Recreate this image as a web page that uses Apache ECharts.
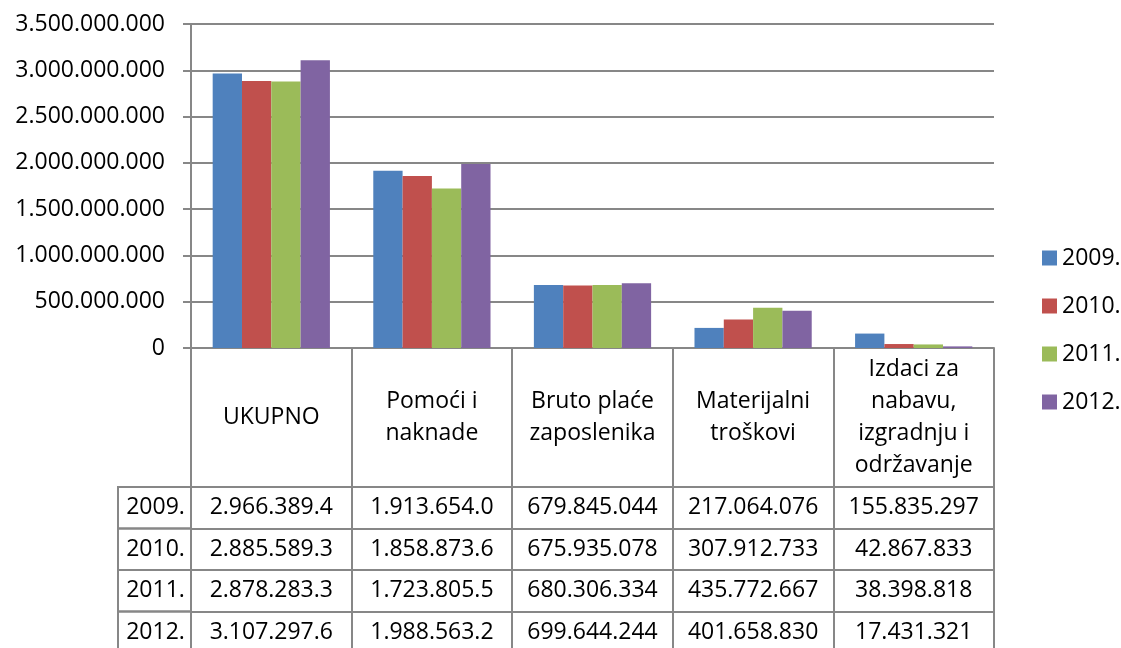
<!DOCTYPE html>
<html>
<head>
<meta charset="utf-8">
<script src="https://cdn.jsdelivr.net/npm/echarts@6/dist/echarts.min.js"></script>
<style>
html,body{margin:0;padding:0;background:#fff;}
#main{width:1121px;height:648px;}
</style>
</head>
<body>
<div id="main"></div>
<script>
// ---- data ----
var categories = ['UKUPNO', 'Pomoći i\nnaknade', 'Bruto plaće\nzaposlenika', 'Materijalni\ntroškovi', 'Izdaci za\nnabavu,\nizgradnju i\nodržavanje'];
var years = ['2009.', '2010.', '2011.', '2012.'];
var values2009 = [2966389400, 1913654000, 679845044, 217064076, 155835297];
var values2010 = [2885589300, 1858873600, 675935078, 307912733, 42867833];
var values2011 = [2878283300, 1723805500, 680306334, 435772667, 38398818];
var values2012 = [3107297600, 1988563200, 699644244, 401658830, 17431321];
var table2009 = ['2.966.389.4', '1.913.654.0', '679.845.044', '217.064.076', '155.835.297'];
var table2010 = ['2.885.589.3', '1.858.873.6', '675.935.078', '307.912.733', '42.867.833'];
var table2011 = ['2.878.283.3', '1.723.805.5', '680.306.334', '435.772.667', '38.398.818'];
var table2012 = ['3.107.297.6', '1.988.563.2', '699.644.244', '401.658.830', '17.431.321'];
var yTicks = { min: 0, max: 3500000000, interval: 500000000 };

// ---- layout/style ----
var FONT = 'Open Sans';
var FS = 23;
var GRAY = '#878787';
var colors = ['#4F81BD', '#C0504D', '#9BBB59', '#8064A2'];
var gridLeft = 191, gridTop = 24, gridRight = 127, gridBottom = 300;
var headerH = 139, rowH = 41.5;
var zeroY = 648 - gridBottom;
var yearColLeft = 118;

var allValues = [values2009, values2010, values2011, values2012];
var tableRows = [table2009, table2010, table2011, table2012];

function fmtDots(v) {
  return String(Math.round(v)).replace(/\B(?=(\d{3})+(?!\d))/g, '.');
}

var xAxes = [{
  type: 'category',
  data: categories,
  gridIndex: 0,
  position: 'bottom',
  axisLine: { show: true, lineStyle: { color: GRAY, width: 2 } },
  axisTick: { show: true, length: headerH, lineStyle: { color: GRAY, width: 2 } },
  axisLabel: {
    interval: 0, margin: headerH / 2, verticalAlign: 'middle', align: 'center',
    lineHeight: 32, fontSize: FS, fontFamily: FONT, color: '#000'
  }
}];
tableRows.forEach(function (row, i) {
  xAxes.push({
    type: 'category',
    data: categories,
    gridIndex: 0,
    position: 'bottom',
    offset: headerH + rowH * i,
    axisLine: { show: true, lineStyle: { color: GRAY, width: 2 } },
    axisTick: { show: true, length: rowH, lineStyle: { color: GRAY, width: 2 } },
    axisLabel: {
      interval: 0, margin: rowH / 2, verticalAlign: 'middle', align: 'center',
      fontSize: FS, fontFamily: FONT, color: '#000',
      formatter: (function (r) { return function (v, idx) { return r[idx]; }; })(row)
    },
    splitLine: { show: false }
  });
});

var graphics = [];
years.forEach(function (y, i) {
  var top = zeroY + headerH + rowH * i;
  graphics.push({
    type: 'rect',
    shape: { x: yearColLeft, y: top, width: gridLeft - yearColLeft, height: rowH },
    style: { fill: 'none', stroke: GRAY, lineWidth: 2 },
    silent: true
  });
  graphics.push({
    type: 'text',
    x: (yearColLeft + gridLeft) / 2 + 1,
    y: top + rowH / 2,
    style: { text: y, fontSize: FS, fontFamily: FONT, fill: '#000', align: 'center', verticalAlign: 'middle' },
    silent: true
  });
});

var series = years.map(function (y, i) {
  return {
    name: y,
    type: 'bar',
    xAxisIndex: 0,
    yAxisIndex: 0,
    data: allValues[i],
    itemStyle: { color: colors[i] },
    barGap: '0%',
    barCategoryGap: '27%'
  };
});

var chart = echarts.init(document.getElementById('main'), null, { renderer: 'canvas' });
chart.setOption({
  animation: false,
  backgroundColor: '#fff',
  color: colors,
  grid: { left: gridLeft, top: gridTop, right: gridRight, bottom: gridBottom, containLabel: false },
  legend: {
    orient: 'vertical',
    left: 1037,
    top: 240,
    itemWidth: 15,
    itemHeight: 15,
    itemGap: 22,
    icon: 'rect',
    textStyle: { fontSize: FS, fontFamily: FONT, color: '#000', lineHeight: 26 },
    data: years
  },
  xAxis: xAxes,
  yAxis: {
    type: 'value',
    min: yTicks.min,
    max: yTicks.max,
    interval: yTicks.interval,
    axisLine: { show: true, lineStyle: { color: GRAY, width: 2 } },
    axisTick: { show: true, length: 8, lineStyle: { color: GRAY, width: 2 } },
    splitLine: { show: true, lineStyle: { color: GRAY, width: 2 } },
    axisLabel: {
      margin: 26, fontSize: FS, fontFamily: FONT, color: '#000',
      formatter: fmtDots
    }
  },
  graphic: graphics,
  series: series
});
</script>
</body>
</html>
